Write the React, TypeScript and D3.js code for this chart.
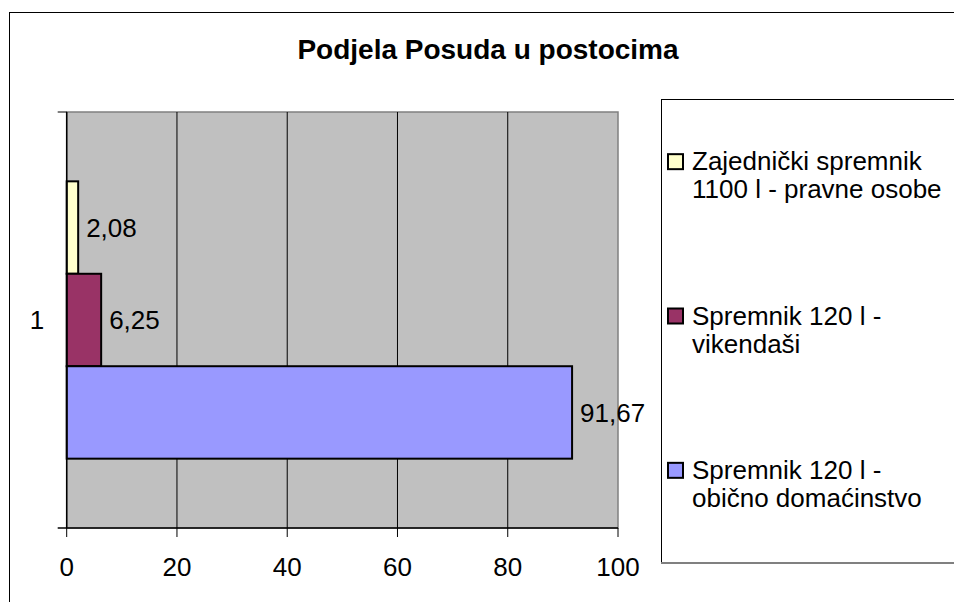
import React, { useEffect, useRef } from "react";
import * as d3 from "d3";

// data
const categories = ["1"];
const seriesNames = [
  ["Spremnik 120 l -", "obično domaćinstvo"],
  ["Spremnik 120 l -", "vikendaši"],
  ["Zajednički spremnik", "1100 l - pravne osobe"],
];
const seriesValues = [91.67, 6.25, 2.08];
const seriesColors = ["#9999FF", "#993366", "#FFFFCC"];
const xTicks = [0, 20, 40, 60, 80, 100];
const title = "Podjela Posuda u postocima";

const App = () => {
  const ref = useRef<SVGSVGElement>(null);

  useEffect(() => {
    const width = 954;
    const height = 602;
    const font = "'Liberation Sans', Arial, sans-serif";
    const plot = { left: 66.7, right: 618, top: 112, bottom: 528 };

    const svg = d3.select(ref.current)
        .attr("width", width)
        .attr("height", height)
        .style("font-family", font);
    svg.selectAll("*").remove();

    svg.append("rect")
        .attr("width", width).attr("height", height).attr("fill", "#fff");

    // outer chart border (runs off the right / bottom)
    svg.append("rect")
        .attr("x", 9.5).attr("y", 12.5)
        .attr("width", width + 20).attr("height", height + 20)
        .attr("fill", "none").attr("stroke", "#000");

    svg.append("text")
        .attr("x", 488).attr("y", 59)
        .attr("text-anchor", "middle")
        .attr("font-size", 28).attr("font-weight", "bold")
        .text(title);

    const x = d3.scaleLinear().domain([0, 100]).range([plot.left, plot.right]);
    const y0 = d3.scaleBand().domain(categories).range([plot.top, plot.bottom]);
    // top to bottom: last series first
    const order = d3.range(seriesValues.length).reverse();
    const y1 = d3.scaleBand<number>()
        .domain(order)
        .range([0, y0.bandwidth()])
        .paddingInner(0)
        .paddingOuter(0.75);

    // plot area
    svg.append("rect")
        .attr("x", plot.left).attr("y", plot.top)
        .attr("width", plot.right - plot.left).attr("height", plot.bottom - plot.top)
        .attr("fill", "#C0C0C0").attr("stroke", "#808080").attr("stroke-width", 1.5);

    svg.append("g")
      .selectAll("line")
      .data(xTicks.slice(1, -1))
      .join("line")
        .attr("x1", d => x(d)).attr("x2", d => x(d))
        .attr("y1", plot.top).attr("y2", plot.bottom)
        .attr("stroke", "#000").attr("stroke-width", 1);

    // bars
    const cat = categories[0];
    svg.append("g")
      .selectAll("rect")
      .data(order)
      .join("rect")
        .attr("x", x(0))
        .attr("y", i => y0(cat)! + y1(i)!)
        .attr("width", i => x(seriesValues[i]) - x(0))
        .attr("height", y1.bandwidth())
        .attr("fill", i => seriesColors[i])
        .attr("stroke", "#000").attr("stroke-width", 2);

    svg.append("g")
        .attr("font-size", 26)
      .selectAll("text")
      .data(order)
      .join("text")
        .attr("x", i => x(seriesValues[i]) + 8)
        .attr("y", i => y0(cat)! + y1(i)! + y1.bandwidth() / 2)
        .attr("dy", "0.36em")
        .text(i => d3.format(".2f")(seriesValues[i]).replace(".", ","));

    // axes
    svg.append("line")
        .attr("x1", plot.left).attr("x2", plot.left)
        .attr("y1", plot.top).attr("y2", plot.bottom)
        .attr("stroke", "#000").attr("stroke-width", 1.5);
    svg.append("line")
        .attr("x1", plot.left - 9).attr("x2", plot.right)
        .attr("y1", plot.bottom).attr("y2", plot.bottom)
        .attr("stroke", "#000").attr("stroke-width", 1.5);
    svg.append("line")
        .attr("x1", plot.left - 9).attr("x2", plot.left)
        .attr("y1", plot.top).attr("y2", plot.top)
        .attr("stroke", "#000").attr("stroke-width", 1);

    const xt = svg.append("g").selectAll("g").data(xTicks).join("g");
    xt.append("line")
        .attr("x1", d => x(d)).attr("x2", d => x(d))
        .attr("y1", plot.bottom).attr("y2", plot.bottom + 9)
        .attr("stroke", "#000");
    xt.append("text")
        .attr("x", d => x(d)).attr("y", 576)
        .attr("text-anchor", "middle").attr("font-size", 26)
        .text(d => d);

    svg.append("text")
        .attr("x", 37).attr("y", (plot.top + plot.bottom) / 2)
        .attr("dy", "0.36em")
        .attr("text-anchor", "middle").attr("font-size", 26)
        .text(cat);

    // legend
    const legend = { x: 661, y: 99, h: 463 };
    svg.append("rect")
        .attr("x", legend.x + 0.5).attr("y", legend.y + 0.5)
        .attr("width", 400).attr("height", legend.h)
        .attr("fill", "#fff").attr("stroke", "#000");
    svg.append("line")
        .attr("x1", legend.x).attr("x2", width)
        .attr("y1", legend.y + legend.h + 1).attr("y2", legend.y + legend.h + 1)
        .attr("stroke", "#808080").attr("stroke-width", 2);

    const ly = d3.scaleBand<number>().domain(order).range([legend.y, legend.y + legend.h]);
    const item = svg.append("g")
      .selectAll("g")
      .data(order)
      .join("g")
        .attr("transform", i => `translate(0,${ly(i)! + ly.bandwidth() / 2})`);

    item.append("rect")
        .attr("x", 668).attr("y", -22)
        .attr("width", 15).attr("height", 15)
        .attr("fill", i => seriesColors[i])
        .attr("stroke", "#000").attr("stroke-width", 2);

    item.append("text")
        .attr("font-size", 26)
      .selectAll("tspan")
      .data(i => seriesNames[i])
      .join("tspan")
        .attr("x", 692)
        .attr("y", (_, j) => -6 + j * 28)
        .text(d => d);
  }, []);

  return <svg ref={ref} style={{ position: "absolute", left: 0, top: 0 }}></svg>;
};

export default App;
